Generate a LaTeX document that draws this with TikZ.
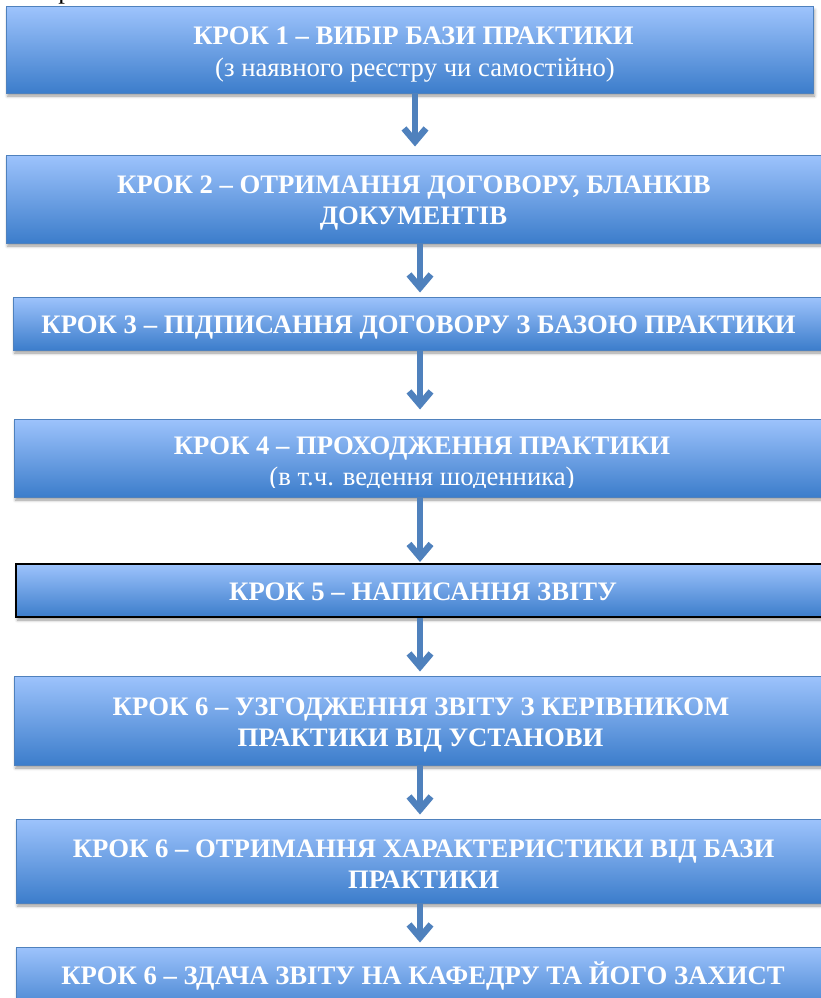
\documentclass[tikz,border=0pt]{standalone}
\usepackage{fontspec}
\setmainfont{Liberation Serif}
\usetikzlibrary{arrows.meta,shadows.blur,calc}
\definecolor{arrowblue}{RGB}{79,129,189}
\definecolor{boxtop}{RGB}{157,195,252}
\definecolor{boxbot}{RGB}{60,125,203}
\definecolor{boxedge}{RGB}{79,129,189}
\begin{document}
\begin{tikzpicture}[x=1pt,y=-1pt,
  stepbox/.style={draw=boxedge, line width=1pt, top color=boxtop, bottom color=boxbot,
    inner sep=0pt, blur shadow={shadow xshift=1.5pt, shadow yshift=-3pt, shadow blur radius=3pt, shadow opacity=40}},
  blackbox/.style={stepbox, draw=black, line width=2pt},
  headtxt/.style={anchor=base, inner sep=0pt, text=white, font=\bfseries\fontsize{26.7}{30}\selectfont},
  subtxt/.style={anchor=base, inner sep=0pt, text=white, font=\fontsize{26.7}{30}\selectfont},
  flow/.style={draw=arrowblue, line width=6.5pt, -{Straight Barb[length=13pt,width=22pt]}}]
\useasboundingbox (0,0) rectangle (820,998);
% cut-off glyph of text above
\node[anchor=south, inner sep=0pt, font=\fontsize{26.7}{30}\selectfont] (frag) at (65,4) {р};
% boxes
\node[stepbox, minimum width=807pt, minimum height=86pt] (s1) at (409.5,50) {};
\node[stepbox, minimum width=824pt, minimum height=88pt] (s2) at (418,199) {};
\node[stepbox, minimum width=817pt, minimum height=53pt] (s3) at (421.5,323.5) {};
\node[stepbox, minimum width=816pt, minimum height=78pt] (s4) at (422,458) {};
\node[blackbox, minimum width=814pt, minimum height=53pt] (s5) at (423,590.5) {};
\node[stepbox, minimum width=816pt, minimum height=89pt] (s6) at (422,720.5) {};
\node[stepbox, minimum width=814pt, minimum height=84pt] (s7) at (423,861) {};
\node[stepbox, minimum width=814pt, minimum height=70pt] (s8) at (423,982) {};
% texts
\node[headtxt] (t1a) at (413.5,45) {КРОК 1 – ВИБІР БАЗИ ПРАКТИКИ};
\node[subtxt] (t1b) at (415,77) {(з наявного реєстру чи самостійно)};
\node[headtxt] (t2a) at (414,193) {КРОК 2 – ОТРИМАННЯ ДОГОВОРУ, БЛАНКІВ};
\node[headtxt] (t2b) at (413.5,224) {ДОКУМЕНТІВ};
\node[headtxt] (t3) at (418.5,333) {КРОК 3 – ПІДПИСАННЯ ДОГОВОРУ З БАЗОЮ ПРАКТИКИ};
\node[headtxt] (t4a) at (422,454) {КРОК 4 – ПРОХОДЖЕННЯ ПРАКТИКИ};
\begin{scope}
  \clip (0,400) rectangle (820,487.5);
  \node[subtxt] (t4b) at (422,485) {(в т.ч. ведення шоденника)};
\end{scope}
\node[headtxt] (t5) at (423,600) {КРОК 5 – НАПИСАННЯ ЗВІТУ};
\node[headtxt] (t6a) at (421,715) {КРОК 6 – УЗГОДЖЕННЯ ЗВІТУ З КЕРІВНИКОМ};
\node[headtxt] (t6b) at (420.5,746) {ПРАКТИКИ ВІД УСТАНОВИ};
\node[headtxt] (t7a) at (423.5,857) {КРОК 6 – ОТРИМАННЯ ХАРАКТЕРИСТИКИ ВІД БАЗИ};
\node[headtxt] (t7b) at (423.5,888) {ПРАКТИКИ};
\node[headtxt] (t8) at (423,984) {КРОК 6 – ЗДАЧА ЗВІТУ НА КАФЕДРУ ТА ЙОГО ЗАХИСТ};
% arrow axes
\coordinate (ax1) at (415,0);
\coordinate (ax) at (420,0);
% arrows
\draw[flow] (s1.south -| ax1) -- ($(s2.north -| ax1)+(0,-8)$);
\draw[flow] (s2.south -| ax) -- ($(s3.north -| ax)+(0,-4)$);
\draw[flow] (s3.south -| ax) -- ($(s4.north -| ax)+(0,-9)$);
\draw[flow] (s4.south -| ax) -- ($(s5.north -| ax)+(0,-1)$);
\draw[flow] (s5.south -| ax) -- ($(s6.north -| ax)+(0,-4)$);
\draw[flow] (s6.south -| ax) -- ($(s7.north -| ax)+(0,-4)$);
\draw[flow] (s7.south -| ax) -- ($(s8.north -| ax)+(0,-4)$);
\end{tikzpicture}
\end{document}
